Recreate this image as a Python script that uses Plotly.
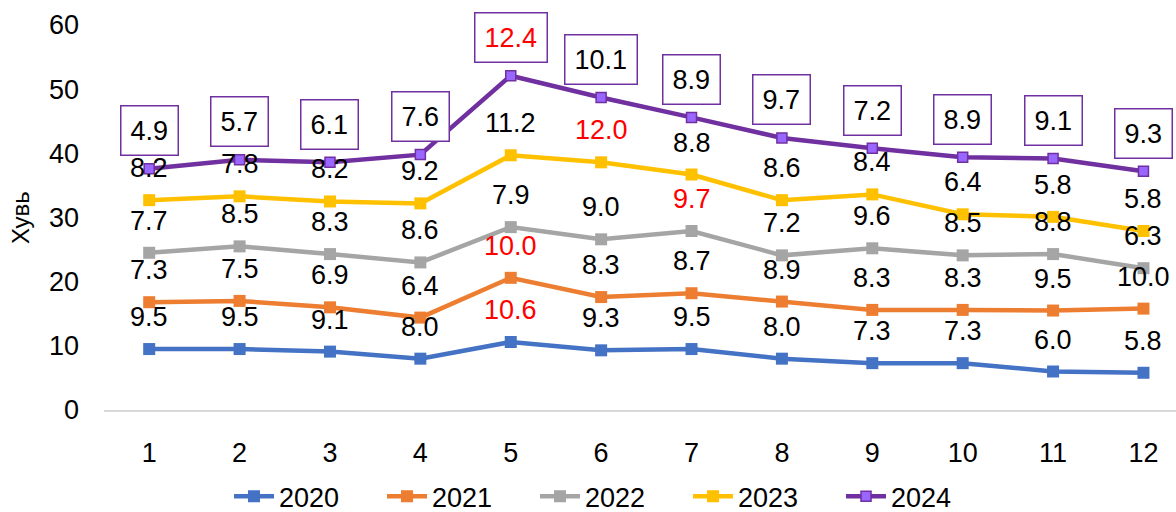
import numpy as np
import plotly.graph_objects as go

months = list(range(1, 13))
years = ["2020", "2021", "2022", "2023", "2024"]

v2020 = [9.5, 9.5, 9.1, 8.0, 10.6, 9.3, 9.5, 8.0, 7.3, 7.3, 6.0, 5.8]
v2021 = [7.3, 7.5, 6.9, 6.4, 10.0, 8.3, 8.7, 8.9, 8.3, 8.3, 9.5, 10.0]
v2022 = [7.7, 8.5, 8.3, 8.6, 7.9, 9.0, 9.7, 7.2, 9.6, 8.5, 8.8, 6.3]
v2023 = [8.2, 7.8, 8.2, 9.2, 11.2, 12.0, 8.8, 8.6, 8.4, 6.4, 5.8, 5.8]
v2024 = [4.9, 5.7, 6.1, 7.6, 12.4, 10.1, 8.9, 9.7, 7.2, 8.9, 9.1, 9.3]

# labels shown in red: (year, month)
highlight = {("2020", 5), ("2021", 5), ("2022", 7), ("2023", 6), ("2024", 5)}

series = [v2020, v2021, v2022, v2023, v2024]
line_colors = ["#4472C4", "#ED7D31", "#A5A5A5", "#FFC000", "#7030A0"]
marker_fill = ["#4472C4", "#ED7D31", "#A5A5A5", "#FFC000", "#9966FF"]

stacked = np.cumsum(np.array(series), axis=0)

FONT = "Liberation Sans, Arial, sans-serif"

fig = go.Figure()
annotations = []
for i, (yr, vals) in enumerate(zip(years, series)):
    is_last = i == len(years) - 1
    fig.add_trace(go.Scatter(
        x=months, y=stacked[i], name=yr, mode="lines+markers",
        line=dict(color=line_colors[i], width=4.5),
        marker=dict(symbol="square", size=10 if is_last else 12,
                    color=marker_fill[i],
                    line=dict(color=line_colors[i], width=1.5 if is_last else 0)),
    ))
    for m, v, y in zip(months, vals, stacked[i]):
        col = "#FF0000" if (yr, m) in highlight else "#000000"
        ann = dict(x=m, y=y, xref="x", yref="y", text=f"{v:.1f}",
                   showarrow=False, font=dict(family=FONT, size=27, color=col),
                   xanchor="center", yanchor="middle")
        if is_last:
            ann.update(yshift=38, bordercolor="#7030A0", borderwidth=1.5,
                       borderpad=9, bgcolor="#FFFFFF")
        else:
            ann.update(yshift=32)
        annotations.append(ann)

fig.update_layout(
    width=1176, height=512,
    margin=dict(l=104, r=0, t=25, b=102, autoexpand=False),
    paper_bgcolor="white", plot_bgcolor="white",
    font=dict(family=FONT, size=27, color="#000000"),
    showlegend=True,
    legend=dict(orientation="h", xref="container", x=0.52, xanchor="center",
                yref="container", y=0.03, yanchor="middle", font=dict(size=27),
                entrywidth=98, entrywidthmode="pixels",
                itemwidth=40, traceorder="normal"),
    annotations=annotations,
)
fig.update_xaxes(range=[0.5, 12.36], tickvals=months, ticktext=[str(m) for m in months],
                 showgrid=False, zeroline=False, showline=True, automargin=False,
                 linecolor="#D9D9D9", linewidth=1.5, ticks="",
                 ticklabelstandoff=18, tickfont=dict(size=27))
fig.update_yaxes(range=[0, 60], tickvals=[0, 10, 20, 30, 40, 50, 60],
                 showgrid=False, zeroline=False, showline=False, ticks="",
                 automargin=False,
                 ticklabelstandoff=24, tickfont=dict(size=27),
                 title=dict(text="Хувь", font=dict(size=24), standoff=12))

fig.write_html("out.html")
